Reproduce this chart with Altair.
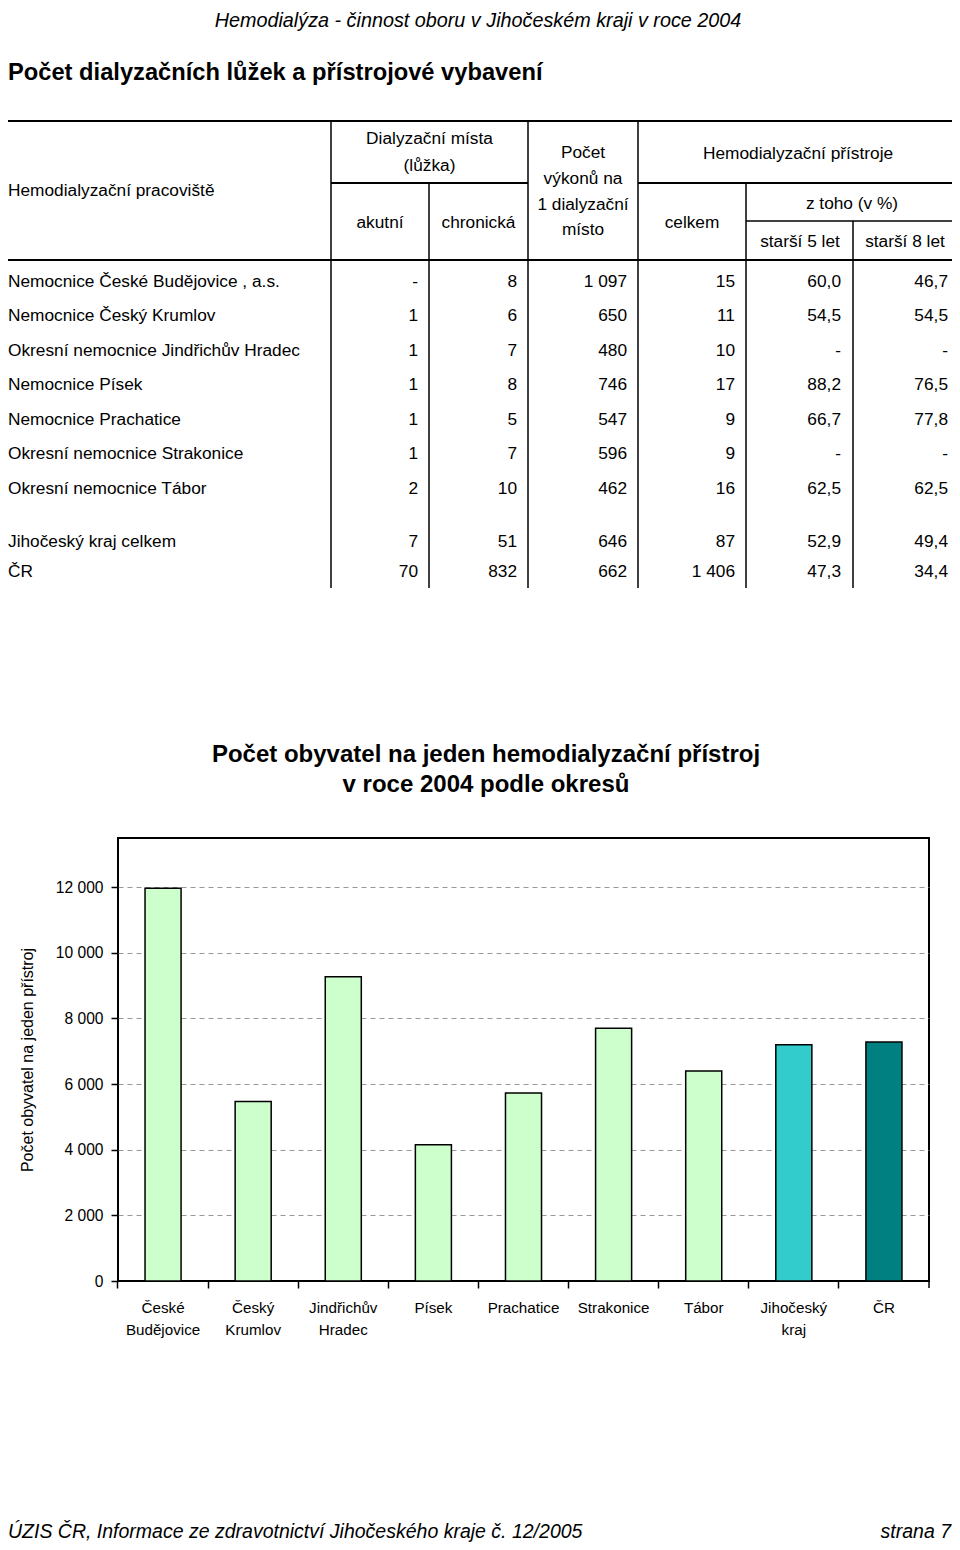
import altair as alt
import pandas as pd

# ---------------- data ----------------
hospitals = [
    "Nemocnice České Budějovice , a.s.",
    "Nemocnice Český Krumlov",
    "Okresní nemocnice Jindřichův Hradec",
    "Nemocnice Písek",
    "Nemocnice Prachatice",
    "Okresní nemocnice  Strakonice",
    "Okresní nemocnice  Tábor",
    "Jihočeský kraj celkem",
    "ČR",
]
akutni = ["-", "1", "1", "1", "1", "1", "2", "7", "70"]
chronicka = ["8", "6", "7", "8", "5", "7", "10", "51", "832"]
vykony = ["1 097", "650", "480", "746", "547", "596", "462", "646", "662"]
celkem = ["15", "11", "10", "17", "9", "9", "16", "87", "1 406"]
starsi5 = ["60,0", "54,5", "-", "88,2", "66,7", "-", "62,5", "52,9", "47,3"]
starsi8 = ["46,7", "54,5", "-", "76,5", "77,8", "-", "62,5", "49,4", "34,4"]

regions = ["České Budějovice", "Český Krumlov", "Jindřichův Hradec", "Písek",
           "Prachatice", "Strakonice", "Tábor", "Jihočeský kraj", "ČR"]
per_device = [11970, 5470, 9270, 4150, 5730, 7700, 6400, 7200, 7280]
groups = ["okres"] * 7 + ["kraj", "cr"]
y_ticks = [0, 2000, 4000, 6000, 8000, 10000, 12000]

# ---------------- layout helpers ----------------
OX, OY = 118, 838          # page position of plot origin
PW, PH = 811, 443          # plot area
TOTAL_W, TOTAL_H = 944, 1534
def cx(x): return x - OX
def cy(y): return y - OY

SANS = "Liberation Sans, Arial, sans-serif"
TFS = 17.3                 # table font size
DY = -2                    # vertical nudge for table text
DUMMY = alt.Data(values=[{"a": 1}])

def txt(x, y, s, size=TFS, align="center", weight="normal", style="normal"):
    return alt.Chart(DUMMY).mark_text(
        text=s, font=SANS, fontSize=size, align=align, baseline="alphabetic",
        fontWeight=weight, fontStyle=style, color="black"
    ).encode(x=alt.value(cx(x)), y=alt.value(cy(y)))

def hline(x1, x2, y, w=2):
    return alt.Chart(DUMMY).mark_rule(color="black", strokeWidth=w).encode(
        x=alt.value(cx(x1)), x2=alt.value(cx(x2)), y=alt.value(cy(y)))

def vline(x, y1, y2, w=1.5):
    return alt.Chart(DUMMY).mark_rule(color="black", strokeWidth=w).encode(
        x=alt.value(cx(x)), y=alt.value(cy(y1)), y2=alt.value(cy(y2)))

# ---------------- bar chart ----------------
bar_df = pd.DataFrame({"region": regions, "value": per_device, "group": groups})

bars = alt.Chart(bar_df).mark_bar(stroke="black", strokeWidth=1.5).encode(
    x=alt.X("region:N", sort=regions,
            scale=alt.Scale(paddingInner=0.6, paddingOuter=0.3),
            axis=alt.Axis(title=None, labels=False, domain=False, grid=False,
                          ticks=True, tickSize=7, tickWidth=1.5, tickColor="black",
                          bandPosition=-0.75)),
    y=alt.Y("value:Q", scale=alt.Scale(domain=[0, 13500], nice=False, zero=True),
            axis=alt.Axis(values=y_ticks,
                          labelExpr="replace(format(datum.value, ','), ',', ' ')",
                          labelFont=SANS, labelFontSize=15.6, labelColor="black",
                          labelPadding=8, tickSize=7, tickWidth=1.5, tickColor="black",
                          domain=False, grid=True, gridDash=[5, 4], gridColor="#999999",
                          gridWidth=1,
                          gridOpacity={"condition": {"test": "datum.value === 0", "value": 0},
                                       "value": 1},
                          title="Počet obyvatel na jeden přístroj",
                          titleFont=SANS, titleFontSize=16, titleFontWeight="normal",
                          titleColor="black", titleAngle=270, titleX=cx(27),
                          titleY=PH / 2, titleAlign="center", titleBaseline="middle")),
    color=alt.Color("group:N",
                    scale=alt.Scale(domain=["okres", "kraj", "cr"],
                                    range=["#CCFFCC", "#33CCCC", "#008080"]),
                    legend=None),
)

labels = alt.Chart(bar_df).mark_text(
    font=SANS, fontSize=15.2, lineBreak=" ", lineHeight=22, baseline="top",
    align="center", color="black"
).encode(x=alt.X("region:N", sort=regions), y=alt.value(cy(1300.5)), text="region:N")

end_tick = alt.Chart(DUMMY).mark_rule(color="black", strokeWidth=1.5).encode(
    x=alt.value(PW), y=alt.value(PH), y2=alt.value(PH + 7))

bar_layer = alt.layer(bars, labels, end_tick)

# ---------------- table body ----------------
lab_df = pd.DataFrame({"ri": list(range(len(hospitals))), "ci": 0, "txt": hospitals})
num_cols = [akutni, chronicka, vykony, celkem, starsi5, starsi8]
num_records = []
for j, col in enumerate(num_cols):
    for i, v in enumerate(col):
        num_records.append({"ri": i, "ci": j + 1, "txt": v})
num_df = pd.DataFrame(num_records)

xs = alt.Scale(domain=[0, 1, 2, 3, 4, 5, 6],
               range=[cx(8), cx(418), cx(517), cx(627), cx(735), cx(841), cx(948)],
               nice=False, zero=False)
ys = alt.Scale(domain=[0, 6, 7, 8],
               range=[cy(288.5 + DY), cy(495.5 + DY), cy(548.5 + DY), cy(579 + DY)],
               nice=False, zero=False)

tab_labels = alt.Chart(lab_df).mark_text(
    font=SANS, fontSize=TFS, align="left", baseline="alphabetic", color="black"
).encode(x=alt.X("ci:Q", scale=xs, axis=None), y=alt.Y("ri:Q", scale=ys, axis=None),
         text="txt:N")
tab_nums = alt.Chart(num_df).mark_text(
    font=SANS, fontSize=TFS, align="right", baseline="alphabetic", color="black"
).encode(x=alt.X("ci:Q", scale=xs, axis=None), y=alt.Y("ri:Q", scale=ys, axis=None),
         text="txt:N")
table_layer = alt.layer(tab_labels, tab_nums)

# ---------------- decorations ----------------
decor = [
    txt(478, 27, "Hemodialýza - činnost oboru v Jihočeském kraji v roce 2004",
        size=19.8, style="italic"),
    txt(8, 80, "Počet dialyzačních lůžek a přístrojové vybavení",
        size=23.7, weight="bold", align="left"),
    # table header
    txt(8, 198 + DY, "Hemodialyzační pracoviště", align="left"),
    txt(429.5, 146 + DY, "Dialyzační místa"),
    txt(429.5, 172.5 + DY, "(lůžka)"),
    txt(380, 229.5 + DY, "akutní"),
    txt(478.5, 229.5 + DY, "chronická"),
    txt(583, 160 + DY, "Počet"),
    txt(583, 186 + DY, "výkonů na"),
    txt(583, 211.5 + DY, "1 dialyzační"),
    txt(583, 237 + DY, "místo"),
    txt(798, 160.5 + DY, "Hemodialyzační přístroje"),
    txt(692, 229.5 + DY, "celkem"),
    txt(852, 210.5 + DY, "z toho (v %)"),
    txt(800, 248.5 + DY, "starší 5 let"),
    txt(905, 248.5 + DY, "starší 8 let"),
    # table lines
    hline(8, 958, 121, 2),
    hline(331, 528, 183, 2),
    hline(638, 958, 183, 2),
    hline(746, 958, 221, 1.5),
    hline(8, 958, 260, 2),
    vline(331, 121, 588),
    vline(429, 183, 588),
    vline(528, 121, 588),
    vline(638, 121, 588),
    vline(746, 183, 588),
    vline(853, 221, 588),
    # chart title
    txt(486, 761.5, "Počet obyvatel na jeden hemodialyzační přístroj",
        size=24, weight="bold"),
    txt(486, 791.7, "v roce 2004 podle okresů", size=24, weight="bold"),
    # footer
    txt(8, 1538, "ÚZIS ČR, Informace ze zdravotnictví Jihočeského kraje č. 12/2005",
        size=19.5, style="italic", align="left"),
    txt(951, 1538, "strana 7", size=19.5, style="italic", align="right"),
]

chart = alt.layer(bar_layer, table_layer, *decor).resolve_scale(
    x="independent", y="independent"
).properties(
    width=PW, height=PH,
    autosize=alt.AutoSizeParams(type="none"),
    padding={"left": OX - 8, "top": OY - 8, "right": TOTAL_W - (OX - 8) - PW,
             "bottom": TOTAL_H - (OY - 8) - PH},
    background="white",
).configure_view(stroke="black", strokeWidth=2)

chart.save("out.html", embed_options={"renderer": "svg", "actions": False})
